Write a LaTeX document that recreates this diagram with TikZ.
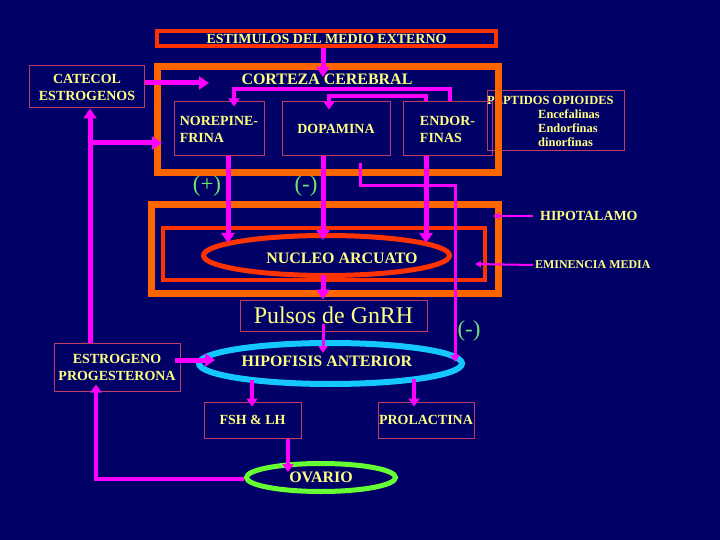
\documentclass[tikz,border=0pt]{standalone}
\usepackage{fontspec}
\setmainfont{Liberation Serif}
\usetikzlibrary{arrows.meta,positioning,shapes.geometric}

\definecolor{fondo}{RGB}{0,0,102}
\definecolor{amarillo}{RGB}{255,255,130}
\definecolor{verdesig}{RGB}{110,230,110}
\definecolor{bordecaja}{RGB}{190,60,100}
\definecolor{naranja}{RGB}{255,102,0}
\definecolor{rojo}{RGB}{255,51,0}
\definecolor{celeste}{RGB}{20,200,255}
\definecolor{verdeov}{RGB}{102,255,51}
\definecolor{rosa}{RGB}{255,0,255}

\begin{document}
\begin{tikzpicture}[x=1bp,y=-1bp,
  texto/.style={text=amarillo,inner sep=0pt,font=\fontsize{14}{17}\selectfont\bfseries},
  caja/.style={texto,draw=bordecaja,line width=1bp,align=center},
  marco/.style={inner sep=0pt},
  elipse/.style={ellipse,inner sep=0pt,text=amarillo,font=\fontsize{16}{18}\selectfont\bfseries},
  signo/.style={text=verdesig,inner sep=0pt,font=\fontsize{23}{25}\selectfont},
  flecha/.style={draw=rosa,line width=5bp,-{Triangle[width=13bp,length=10bp]}},
  flechamed/.style={draw=rosa,line width=4bp,-{Triangle[width=11bp,length=8bp]}},
  flechafina/.style={draw=rosa,line width=3bp,-{Triangle[width=9bp,length=7bp]}},
  flechalbl/.style={draw=rosa,line width=2bp,-{Triangle[width=6bp,length=6bp]}}]
  % ---- 背景 ----
  \fill[fondo] (0,0) rectangle (720,540);
  \useasboundingbox (0,0) rectangle (720,540);

  % ---- 外部刺激 ----
  \node[caja,draw=rojo,line width=4bp,minimum width=339bp,minimum height=15bp] (estimulos) at (326.5,38.5) {ESTIMULOS DEL MEDIO EXTERNO};

  % ---- 右側のオピオイド（枠の下に描く）----
  \node[caja,minimum width=137bp,minimum height=60bp] (peptidos) at (555.5,121) {};
  \node[texto,anchor=north west,align=left,font=\fontsize{12.5}{14}\selectfont\bfseries] (peptxt) at (487,96)
    {PEPTIDOS OPIOIDES\\\hspace*{51bp}Encefalinas\\\hspace*{51bp}Endorfinas\\\hspace*{51bp}dinorfinas};

  % ---- 大脳皮質の枠 ----
  \node[marco,draw=naranja,line width=7bp,minimum width=341bp,minimum height=106bp] (corteza) at (327.5,120) {};
  \node[texto,font=\fontsize{16}{18}\selectfont\bfseries] (cortlbl) at (327,79) {CORTEZA CEREBRAL};

  % ---- 視床下部と正中隆起の枠 ----
  \node[marco,draw=naranja,line width=7bp,minimum width=347bp,minimum height=88bp] (hipot) at (324.5,249) {};
  \node[marco,draw=rojo,line width=4bp,minimum width=322bp,minimum height=52bp] (eminencia) at (324,254) {};

  % ---- 楕円（弓状核・下垂体前葉・卵巣）----
  \node[elipse,draw=rojo,line width=5bp,minimum width=246bp,minimum height=40bp] (nucleo) at (326.5,255.5) {};
  \node[texto,font=\fontsize{16}{18}\selectfont\bfseries] (nuclbl) at (342,258) {NUCLEO ARCUATO};
  \node[elipse,draw=celeste,line width=6bp,minimum width=263bp,minimum height=41bp] (hipofisis) at (330.5,363.5) {};
  \node[texto,font=\fontsize{16}{18}\selectfont\bfseries] (hipolbl) at (327,361) {HIPOFISIS ANTERIOR};
  \node[elipse,draw=verdeov,line width=5bp,minimum width=149bp,minimum height=28bp] (ovario) at (321,477.5) {OVARIO};

  % ---- 四角の箱 ----
  \node[caja,minimum width=114bp,minimum height=42bp] (catecol) at (87,87) {CATECOL\\ESTROGENOS};
  \node[caja,align=left,minimum width=90bp,minimum height=54bp] (norepi) at (219,129) {NOREPINE-\\FRINA};
  \node[caja,minimum width=108bp,minimum height=54bp] (dopamina) at (336,129) {DOPAMINA};
  \node[caja,align=left,minimum width=89bp,minimum height=54bp] (endorf) at (447.5,129) {ENDOR-\\FINAS};
  \node[caja,font=\fontsize{24}{26}\selectfont,minimum width=187bp,minimum height=31bp] (pulsos) at (333.5,315.5) {Pulsos de GnRH};
  \node[caja,minimum width=126bp,minimum height=48bp] (estrogeno) at (117,367) {ESTROGENO\\PROGESTERONA};
  \node[caja,minimum width=97bp,minimum height=36bp] (fsh) at (252.5,420) {FSH \& LH};
  \node[caja,minimum width=96bp,minimum height=36bp] (prolactina) at (426,420) {PROLACTINA};

  % ---- 符号 ----
  \node[signo] (mas) at (207,186) {(+)};
  \node[signo] (menosa) at (306,186) {(-)};
  \node[signo] (menosb) at (469,331) {(-)};

  % ---- 右側の説明ラベル ----
  \node[texto,anchor=west] (hipotlbl) at (540,216) {HIPOTALAMO};
  \node[texto,anchor=west,font=\fontsize{12}{14}\selectfont\bfseries] (eminlbl) at (535,265) {EMINENCIA MEDIA};

  % ---- 矢印の端点 ----
  \coordinate (entrada) at (323,77);
  \coordinate (catfin) at (209,83);
  \coordinate (ramal) at (90,143);
  \coordinate (ramalfin) at (162,143);
  \coordinate (ea) at (450,89);
  \coordinate (na) at (234,89);
  \coordinate (eb) at (426,96);
  \coordinate (db) at (329,96);
  \coordinate (nA) at (228,243);
  \coordinate (nB) at (323,240);
  \coordinate (nC) at (426,243);
  \coordinate (nucsal) at (323,275);
  \coordinate (hipent) at (323,353);
  \coordinate (ra) at (360,163);
  \coordinate (rb) at (360,186);
  \coordinate (rc) at (455,186);
  \coordinate (rd) at (455,362);
  \coordinate (estfin) at (215,360);
  \coordinate (ha) at (252,380);
  \coordinate (hb) at (414,379);
  \coordinate (ova) at (288,472);
  \coordinate (ovb) at (96,479);
  \coordinate (hp) at (493,216);
  \coordinate (em) at (475,264);

  % ---- 矢印 ----
  \draw[flecha] (estimulos.south -| entrada) -- (entrada);
  \draw[flecha] (catecol.east |- catfin) -- (catfin);
  \draw[flecha] (estrogeno.north -| ramal) -- (catecol.south -| ramal);
  \draw[flecha] (ramal) -- (ramalfin);
  \draw[flechamed,shorten >=-5bp] (endorf.north -| ea) -- (ea) -- (na) -- (norepi.north -| na);
  \draw[flechamed,shorten >=-8bp] (endorf.north -| eb) -- (eb) -- (db) -- (dopamina.north -| db);
  \draw[flecha] (norepi.south -| nA) -- (nA);
  \draw[flecha] (dopamina.south -| nB) -- (nB);
  \draw[flecha] (endorf.south -| nC) -- (nC);
  \draw[flecha] (nucsal) -- (pulsos.north -| nucsal);
  \draw[flechafina,shorten <=-8bp] (pulsos.south -| hipent) -- (hipent);
  \draw[flechafina] (ra) -- (rb) -- (rc) -- (rd);
  \draw[flecha,shorten <=-6bp] (estrogeno.east |- estfin) -- (estfin);
  \draw[flechamed,shorten >=-5bp] (ha) -- (fsh.north -| ha);
  \draw[flechamed,shorten >=-5bp] (hb) -- (prolactina.north -| hb);
  \draw[flechamed] (fsh.south -| ova) -- (ova);
  \draw[flechamed,shorten >=-7bp] (ovario.west |- ovb) -- (ovb) -- (estrogeno.south -| ovb);
  \draw[flechalbl] ([xshift=-7bp]hipotlbl.west) -- (hp);
  \draw[flechalbl] ([xshift=-2bp]eminlbl.west) -- (em);
\end{tikzpicture}
\end{document}
